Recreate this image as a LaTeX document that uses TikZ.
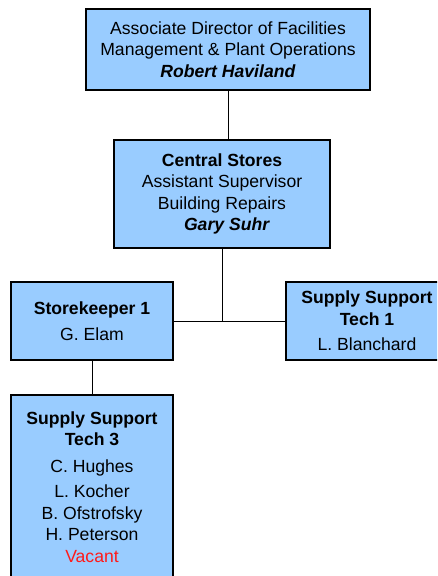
\documentclass[tikz,border=0pt]{standalone}
\usepackage{fontspec}
\setmainfont{Liberation Sans}
\usetikzlibrary{positioning}
\definecolor{boxblue}{HTML}{99CCFF}
\definecolor{vacantred}{HTML}{FF1A1A}

\begin{document}
\begin{tikzpicture}[x=1pt, y=1pt,
    every node/.style={font=\fontsize{17.6}{21.5}\selectfont},
    orgbox/.style={draw, line width=1.6pt, fill=boxblue, align=center,
                   inner sep=0pt, minimum width=162pt},
    link/.style={line width=0.9pt},
]
  \useasboundingbox (0,0) rectangle (437,-576);
  \clip (0,0) rectangle (437,-576);
  % levels from the top
  \node[orgbox, minimum width=284pt, minimum height=81pt] (director)
        at (228,-49.5) {Associate Director of Facilities\\Management \& Plant Operations\\\textbf{\textit{Robert Haviland}}};
  \node[orgbox, minimum width=216pt, minimum height=108pt] (stores)
        at (222,-194) {\textbf{Central Stores}\\Assistant Supervisor\\Building Repairs\\\hspace*{10pt}\textbf{\textit{Gary Suhr}}};
  \node[orgbox, minimum height=78pt] (keeper)
        at (92,-321) {\textbf{Storekeeper 1}\\[4pt]G. Elam};
  \node[orgbox, minimum height=78pt] (techone)
        at (367,-321) {\textbf{Supply Support}\\\textbf{Tech 1}\\[4pt]L. Blanchard};
  \node[orgbox, minimum height=184pt] (techthree)
        at (92,-487) {\textbf{Supply Support}\\\textbf{Tech 3}\\[5pt]C. Hughes\\[4pt]L. Kocher\\B. Ofstrofsky\\H. Peterson\\\textcolor{vacantred}{Vacant}};
  % connectors
  \coordinate (split) at (stores.south |- keeper.east);
  \draw[link] (director.south) -- (director.south |- stores.north);
  \draw[link] (stores.south) -- (split);
  \draw[link] (keeper.east) -- (techone.west);
  \draw[link] (keeper.south) -- (techthree.north);
\end{tikzpicture}
\end{document}
